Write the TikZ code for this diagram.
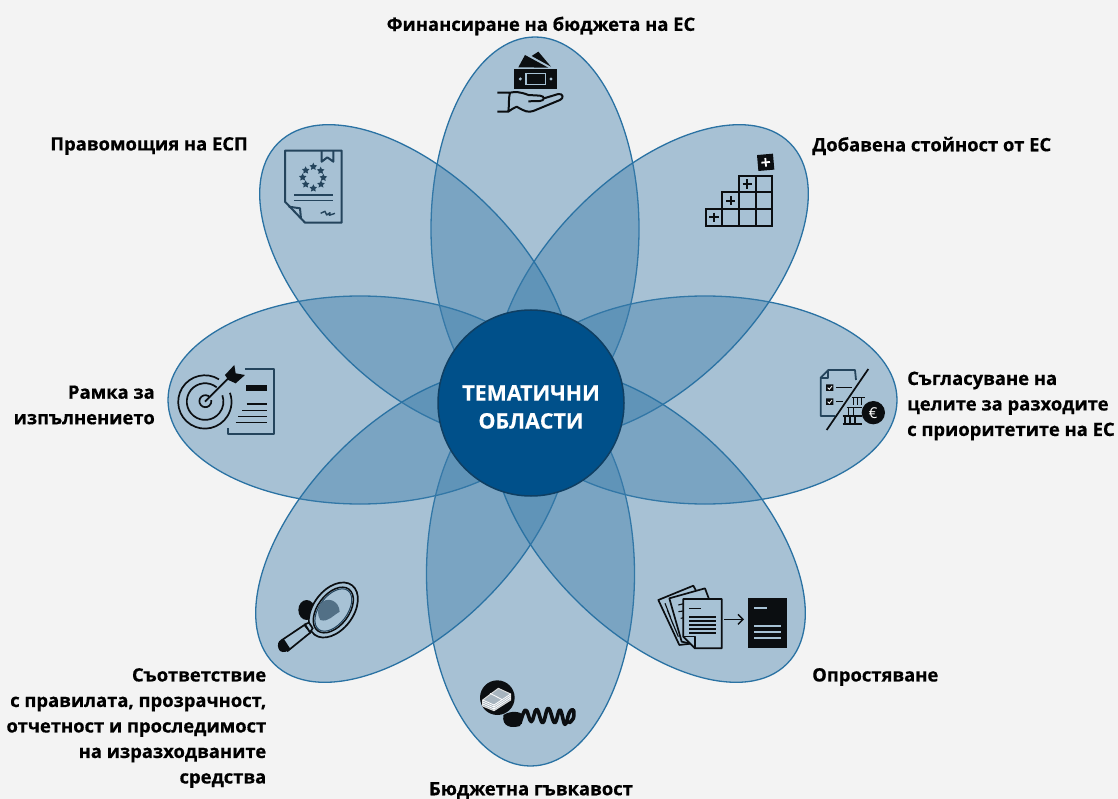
\documentclass[tikz,border=0pt]{standalone}
\usepackage{fontspec}
\setmainfont[BoldFeatures={FakeBold=0.5}]{Open Sans}
\usetikzlibrary{shapes.geometric,arrows.meta}
\definecolor{petal}{HTML}{3E7EAB}
\definecolor{petaledge}{HTML}{2A72A3}
\definecolor{hubfill}{HTML}{00508A}
\definecolor{hubedge}{HTML}{0F3F63}
\definecolor{ink}{HTML}{0B0E11}
\definecolor{slateink}{HTML}{24445C}
\definecolor{single}{HTML}{A7C2D5}
\definecolor{pagebg}{HTML}{F3F3F3}
\tikzset{
 x=1pt,y=-1pt,
 petalshape/.style={draw=petaledge,line width=1.3pt,fill=petal,fill opacity=.42,draw opacity=1},
 lab/.style={font=\fontsize{18.4}{25.5}\selectfont\bfseries,inner sep=0pt,text=black},
 iconline/.style={draw=ink,line width=2pt},
 slateline/.style={draw=slateink,line width=2pt,line join=round},
 zoomed/.style={x=.3333pt,y=-.3333pt},
 euStar/.style={star,star points=5,star point ratio=2,fill=slateink,inner sep=0pt,minimum size=8pt}
}
\begin{document}
\begin{tikzpicture}
\fill[pagebg] (0,0) rectangle (1118,799);
\useasboundingbox (0,0) rectangle (1118,799);
% petals
\path[petalshape] (535,229) ellipse [x radius=104,y radius=192];
\path[petalshape] (530.5,574) ellipse [x radius=104,y radius=192];
\path[petalshape] (360,400) ellipse [x radius=192,y radius=104];
\path[petalshape] (705,400) ellipse [x radius=192,y radius=104];
\path[petalshape,rotate around={45:(652,281)}] (652,281) ellipse [x radius=195,y radius=104];
\path[petalshape,rotate around={-45:(416,281)}] (416,281) ellipse [x radius=195,y radius=104];
\path[petalshape,rotate around={45:(412,526)}] (412,526) ellipse [x radius=195,y radius=104];
\path[petalshape,rotate around={-45:(649,526)}] (649,526) ellipse [x radius=195,y radius=104];
% hub
\node[circle,draw=hubedge,line width=1.5pt,fill=hubfill,minimum size=186pt,inner sep=0pt] (hub) at (531,403) {};
\node[font=\fontsize{21.4}{28}\selectfont\bfseries,text=white,align=center,inner sep=0pt] (hubtext) at (531,407) {ТЕМАТИЧНИ\\ОБЛАСТИ};
% labels
\node[lab] (l1) at (541,26) {Финансиране на бюджета на ЕС};
\node[lab,anchor=east] (l2) at (248,146) {Правомощия на ЕСП};
\node[lab,anchor=west] (l3) at (812,146) {Добавена стойност от ЕС};
\node[lab,anchor=east,align=right] (l4) at (155,405) {Рамка за\\изпълнението};
\node[lab,anchor=west,align=left] (l5) at (907,406) {Съгласуване на\\целите за разходите\\с приоритетите на ЕС};
\node[lab,anchor=east,align=right] (l6) at (266.5,728) {Съответствие\\с правилата, прозрачност,\\отчетност и проследимост\\на изразходваните\\средства};
\node[lab,anchor=west] (l7) at (812,677) {Опростяване};
\node[lab] (l8) at (531,790.5) {Бюджетна гъвкавост};
% icon 1: money on hand
\begin{scope}[shift={(480,30)},zoomed]
 \fill[ink] (115,112) -- (135,75) -- (205,113) -- cycle;
 \fill[ink] (155,78) -- (175,65) -- (213,110) -- cycle;
 \fill[ink] (103,117) rectangle (232,178);
 \draw[single,line width=1.3pt] (138,130) rectangle (197,164);
 \fill[single] (121,147) circle (5) (213,147) circle (5);
 \draw[iconline,line join=round] (52,188) -- (90,188) .. controls (105,185) and (120,185) .. (145,195) -- (180,197) .. controls (195,198) and (195,212) .. (180,213) -- (145,214)
  (192,205) -- (235,192) .. controls (250,190) and (252,205) .. (240,210) -- (160,243) .. controls (145,248) and (135,245) .. (110,230) .. controls (100,232) and (95,240) .. (85,245) -- (52,245)
  (90,188) .. controls (85,205) and (88,225) .. (85,245);
\end{scope}
% icon 2: document with stars
\begin{scope}[shift={(270,140)},zoomed]
 \draw[slateline] (45,32) -- (215,32) -- (215,248) -- (105,248) -- (45,185) -- cycle;
 \draw[slateline] (56,200) -- (90,205) -- (93,236);
 \draw[slateline] (155,32) -- (155,65) -- (172,52) -- (190,65) -- (190,32);
 \foreach \sx/\sy [count=\si] in {130/80,152/92,160/113,153/133,130/145,107/133,98/112,107/91}
  \node[euStar] (eustar\si) at (\sx,\sy) {};
 \draw[slateline,line width=1.4pt] (72,165) -- (188,165) (72,181) -- (188,181);
 \draw[slateline,line width=1.4pt] (152,220) -- (165,214) -- (170,225) -- (180,218) -- (178,226) -- (195,220);
\end{scope}
% icon 3: stair grid
\begin{scope}[shift={(690,140)},zoomed]
 \draw[iconline] (47,207) rectangle (247,257) (97,157) rectangle (247,257) (147,107) rectangle (247,257);
 \draw[iconline] (97,207) -- (97,257) (147,157) -- (147,257) (197,107) -- (197,257) (147,207) -- (247,207) (147,157) -- (247,157);
 \draw[ink,line width=2pt] (58,232) -- (86,232) (72,218) -- (72,246) (108,182) -- (136,182) (122,168) -- (122,196) (158,132) -- (186,132) (172,118) -- (172,146);
 \begin{scope}[rotate around={5:(227,67)}]
  \fill[ink] (203,43) rectangle (251,91);
  \draw[white,line width=1.8pt] (214,67) -- (240,67) (227,54) -- (227,80);
 \end{scope}
\end{scope}
% icon 4: target and document
\begin{scope}[shift={(165,350)},zoomed]
 \draw[iconline,line width=1.7pt] (162,88) arc[start angle=-58,end angle=-380,radius=80];
 \draw[iconline,line width=1.7pt] (155,112) arc[start angle=-51,end angle=-380,radius=55];
 \draw[iconline,line width=1.7pt] (135,142) arc[start angle=-40,end angle=-370,radius=18];
 \draw[iconline,line width=1.7pt] (120,155) -- (190,85);
 \fill[ink] (180,75) -- (208,45) -- (212,70) -- (240,75) -- (212,100) -- (190,90) -- cycle;
 \draw[slateline,line width=1.8pt] (240,58) -- (328,58) -- (328,252) -- (190,252) -- (190,235);
 \fill[ink] (243,105) rectangle (307,123);
 \draw[iconline,line width=1.5pt] (245,162) -- (305,162) (232,181) -- (305,181) (220,200) -- (305,200) (212,218) -- (305,218);
\end{scope}
% icon 5: checklist and euro
\begin{scope}[shift={(800,355)},zoomed]
 \draw[slateline,line width=1.8pt] (168,75) -- (165,45) -- (85,45) -- (62,68) -- (62,183) -- (105,183);
 \draw[slateline,line width=1.8pt] (85,45) -- (85,68) -- (62,68);
 \fill[ink] (78,88) rectangle (100,108) (78,130) rectangle (100,150);
 \draw[white,line width=.8pt] (83,98) -- (88,103) -- (96,93) (83,140) -- (88,145) -- (96,135);
 \draw[iconline,line width=1.5pt] (108,98) -- (155,98) (108,140) -- (128,140);
 \draw[iconline,line width=1.7pt] (80,225) -- (205,42);
 \draw[iconline,line width=1.2pt] (155,128) -- (195,128) (160,128) -- (160,150) (172,128) -- (172,150) (185,128) -- (185,150)
  (140,157) -- (185,157) (145,157) -- (145,180) (160,157) -- (160,180)
  (128,183) -- (185,183) (128,207) -- (185,207) (135,183) -- (135,207) (150,183) -- (150,207) (165,183) -- (165,207);
 \fill[ink] (220,173) circle (35);
 \node[text=white,font=\fontsize{15}{15}\selectfont\mdseries,inner sep=0pt] (euro) at (219,173) {€};
\end{scope}
% icon 6: magnifier
\begin{scope}[shift={(265,570)},zoomed]
 \fill[ink] (125,120) ellipse [x radius=25,y radius=30];
 \begin{scope}[rotate around={53:(205,120)}]
  \fill[single] (205,120) ellipse [x radius=93,y radius=60];
  \draw[iconline,line width=1.7pt] (205,120) ellipse [x radius=93,y radius=60];
  \draw[iconline,line width=1.5pt] (205,120) ellipse [x radius=78,y radius=47];
  \draw[slateline,line width=1pt] (205,120) ellipse [x radius=73,y radius=42];
 \end{scope}
 \fill[slateink!65!single] (165,102) .. controls (185,78) and (222,90) .. (224,125) .. controls (205,135) and (190,158) .. (166,150) .. controls (156,135) and (158,115) .. (165,102) -- cycle;
 \draw[iconline,fill=single,line width=1.7pt,line join=round] (118,165) -- (48,212) -- (68,243) -- (137,187) -- cycle;
 \fill[ink] (43,213) .. controls (50,208) and (55,207) .. (58,209) -- (75,235) .. controls (70,245) and (55,250) .. (45,243) .. controls (38,235) and (36,222) .. (43,213) -- cycle;
 \draw[iconline,fill=single,line width=1.7pt] (120,163) -- (132,158) -- (143,175) -- (135,187) -- cycle;
\end{scope}
% icon 7: papers to one page
\begin{scope}[shift={(650,575)},zoomed]
 \draw[iconline,fill=single,line width=1.7pt,line join=round] (25,75) -- (130,32) -- (150,70) -- (130,205) -- (88,210) -- cycle;
 \draw[iconline,fill=single,line width=1.7pt,line join=round] (58,70) -- (165,40) -- (178,75) -- (140,210) -- (95,200) -- cycle;
 \draw[iconline,line width=1.1pt] (45,85) -- (62,128) (52,105) -- (70,150) (62,130) -- (85,185) (85,90) -- (105,85) (85,110) -- (100,108) (92,130) -- (102,128);
 \draw[iconline,fill=single,line width=1.8pt,line join=round] (100,72) -- (215,72) -- (215,220) -- (135,220) -- (100,185) -- cycle;
 \draw[iconline,line width=1.6pt,line join=round] (100,185) -- (135,185) -- (135,220);
 \draw[iconline,line width=1.5pt] (118,100) -- (152,100);
 \draw[iconline,line width=1.7pt] (118,125) -- (197,125) (118,137) -- (197,137) (118,150) -- (197,150) (118,162) -- (197,162) (118,174) -- (197,174);
 \draw[iconline,line width=1.4pt,-{Straight Barb[length=5pt,width=10pt]}] (222,133) -- (282,133);
 \fill[ink] (295,70) rectangle (412,220);
 \draw[single,line width=1.9pt] (312,100) -- (350,100) (312,152) -- (393,152) (312,172) -- (393,172) (312,190) -- (393,190);
\end{scope}
% icon 8: money on a spring
\begin{scope}[shift={(470,670)},zoomed]
 \fill[ink] (100,135) .. controls (125,120) and (150,125) .. (160,135) -- (150,168) .. controls (125,175) and (95,172) .. (100,135) -- cycle;
 \draw[ink,line width=3.6pt,line join=round,line cap=round] plot[smooth,tension=.7] coordinates {(150,160) (167,120) (184,155) (200,118) (218,158) (235,115) (254,158) (270,120) (285,163) (298,128) (310,120) (310,145) (298,158)};
 \fill[ink] (82,83) circle (52);
 \draw[white!85!ink,fill=slateink!40!white,line width=1pt,line join=round] (38,90) -- (85,55) -- (122,72) -- (122,90) -- (72,122) -- (38,108) -- cycle;
 \draw[white,line width=.8pt] (38,90) -- (72,105) -- (122,72) (72,105) -- (72,122) (60,70) -- (95,88) (38,96) -- (72,111) -- (122,78) (38,102) -- (72,117) -- (122,84);
\end{scope}
\end{tikzpicture}
\end{document}
